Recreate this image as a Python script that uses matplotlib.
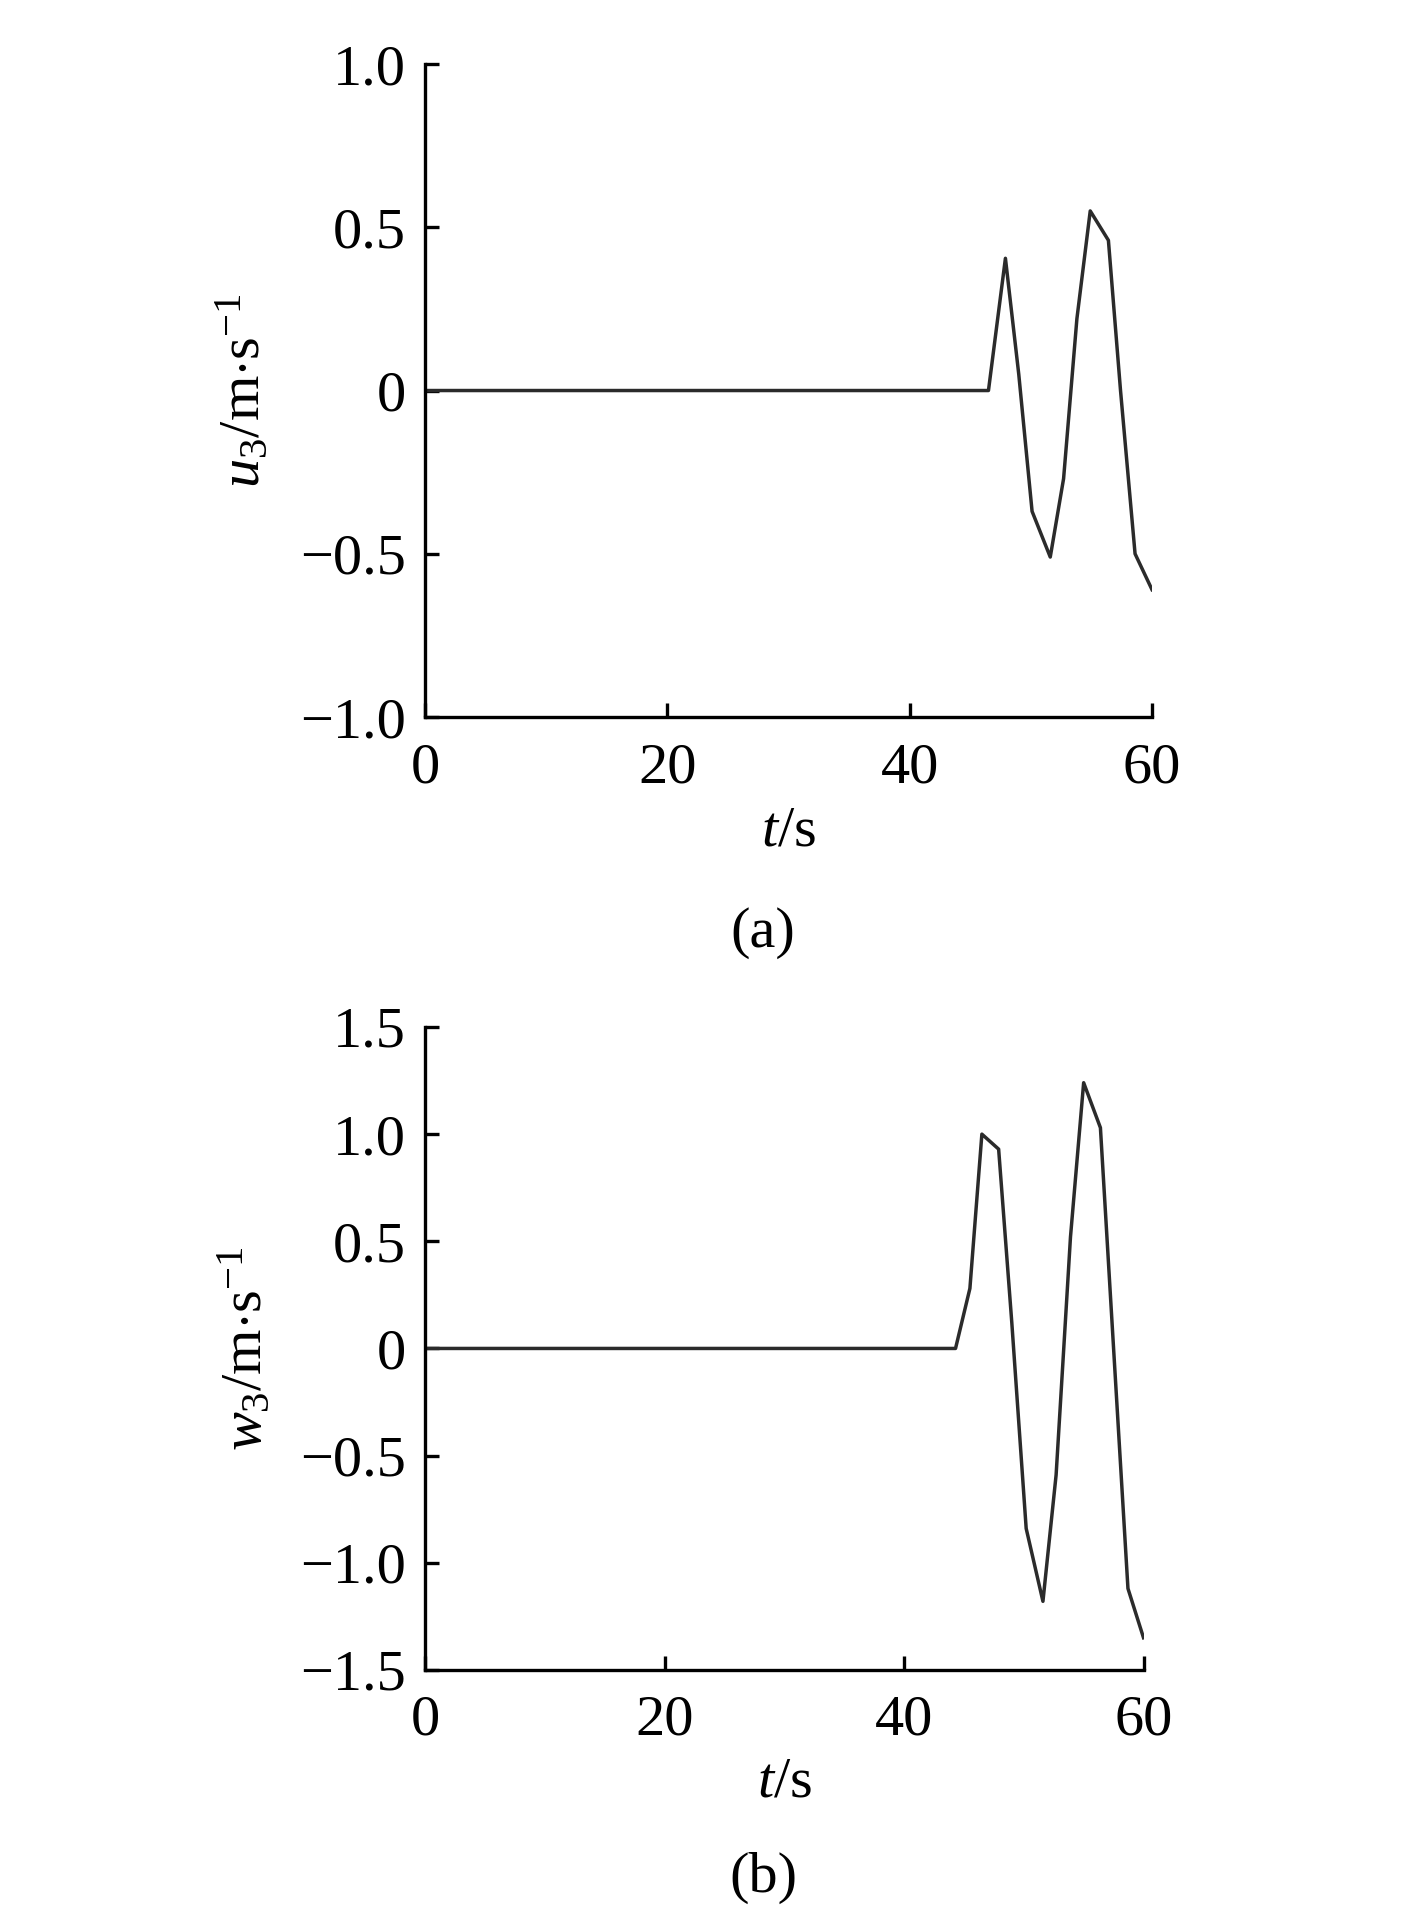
import numpy as np
import matplotlib
matplotlib.use('Agg')
import matplotlib.pyplot as plt

plt.rcParams['font.family'] = ['Liberation Serif', 'DejaVu Serif']
plt.rcParams['mathtext.fontset'] = 'custom'
plt.rcParams['mathtext.rm'] = 'Liberation Serif'
plt.rcParams['mathtext.it'] = 'Liberation Serif:italic'

# (a) horizontal velocity u3
t_u = [0, 46.5, 47.9, 49.0, 50.1, 51.6, 52.7, 53.8, 54.9, 56.4, 57.4, 58.6, 60.0]
u3 = [0, 0, 0.405, 0.05, -0.37, -0.51, -0.27, 0.22, 0.55, 0.46, 0.0, -0.50, -0.61]

# (b) vertical velocity w3
t_w = [0, 44.3, 45.5, 46.5, 47.9, 49.0, 50.2, 51.6, 52.7, 53.9, 55.0, 56.4, 57.5, 58.7, 60.0]
w3 = [0, 0, 0.28, 1.0, 0.93, 0.12, -0.84, -1.18, -0.59, 0.52, 1.24, 1.03, 0.0, -1.12, -1.35]

u_ticks = [-1.0, -0.5, 0, 0.5, 1.0]
u_ticklabels = ['\u22121.0', '\u22120.5', '0', '0.5', '1.0']
w_ticks = [-1.5, -1.0, -0.5, 0, 0.5, 1.0, 1.5]
w_ticklabels = ['\u22121.5', '\u22121.0', '\u22120.5', '0', '0.5', '1.0', '1.5']
x_ticks = [0, 20, 40, 60]

FS = 42
LINE = '#2b2b2b'

fig = plt.figure(figsize=(14.17, 19.05), dpi=100)
ax1 = fig.add_axes([0.300, 0.6236, 0.513, 0.3428])
ax2 = fig.add_axes([0.300, 0.1234, 0.507, 0.3375])


def style(ax, yticks, ylabels, ylim, ylab):
    ax.spines['top'].set_visible(False)
    ax.spines['right'].set_visible(False)
    for s in ('left', 'bottom'):
        ax.spines[s].set_linewidth(2.4)
        ax.spines[s].set_color('black')
    ax.set_xlim(0, 60)
    ax.set_ylim(*ylim)
    ax.set_xticks(x_ticks)
    ax.set_xticklabels([str(v) for v in x_ticks])
    ax.set_yticks(yticks)
    ax.set_yticklabels(ylabels)
    ax.tick_params(direction='in', length=10, width=2.4, labelsize=FS)
    ax.tick_params(axis='x', pad=18)
    ax.tick_params(axis='y', pad=14)
    ax.set_xlabel(r'$t$/s', fontsize=FS)
    ax.xaxis.set_label_coords(0.5, -0.135)
    ax.set_ylabel(ylab, fontsize=FS)
    ax.yaxis.set_label_coords(-0.212, 0.5)


ax1.plot(t_u, u3, color=LINE, lw=2.5)
style(ax1, u_ticks, u_ticklabels, (-1.0, 1.0), r'$u_3/\mathrm{m{\cdot}s}^{-1}$')

ax2.plot(t_w, w3, color=LINE, lw=2.5)
style(ax2, w_ticks, w_ticklabels, (-1.5, 1.5), r'$w_3/\mathrm{m{\cdot}s}^{-1}$')

fig.text(763 / 1417, 1 - 933 / 1905, '(a)', fontsize=FS, ha='center', va='center')
fig.text(763 / 1417, 1 - 1878 / 1905, '(b)', fontsize=FS, ha='center', va='center')

fig.savefig('out.png', dpi=100)
